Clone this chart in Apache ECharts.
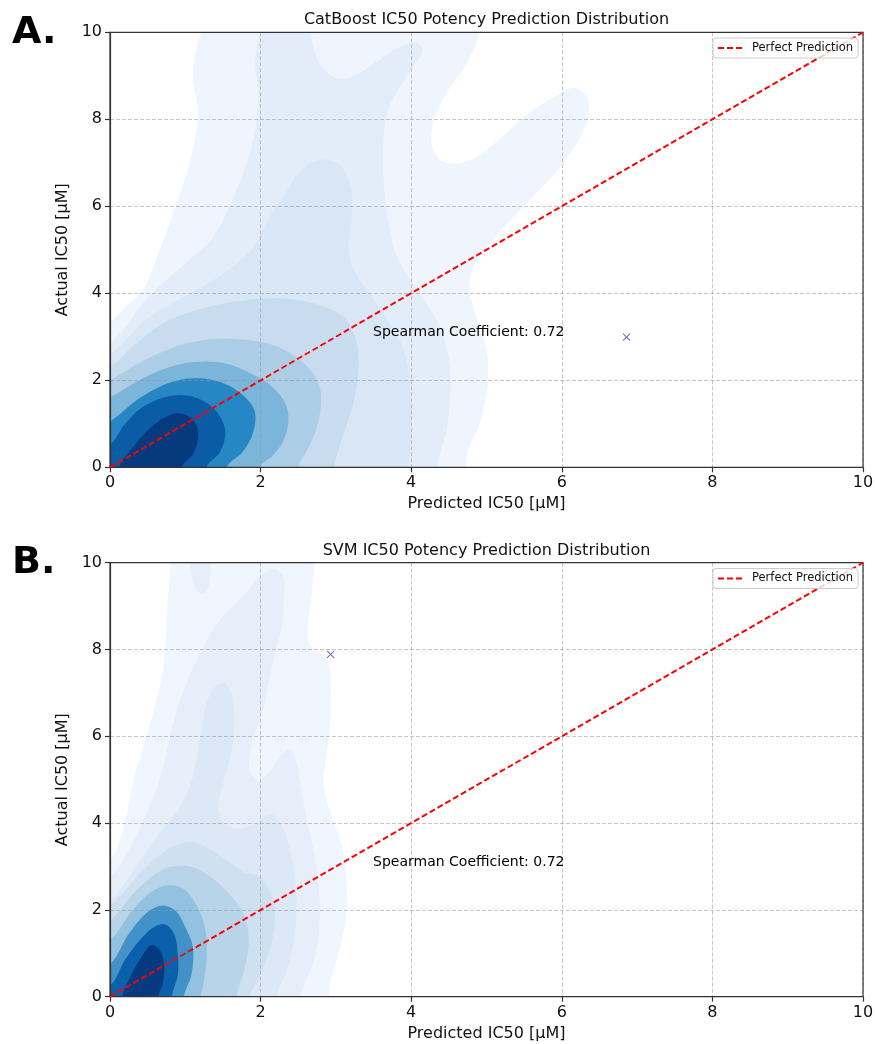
<!DOCTYPE html>
<html><head><meta charset="utf-8">
<script src="https://cdn.jsdelivr.net/npm/echarts@6/dist/echarts.min.js"></script>
<style>html,body{margin:0;padding:0;background:#fff}#chart{width:875px;height:1044px}</style>
</head><body><div id="chart"></div>
<script>
// ---------- data ----------
const axisMin = 0, axisMax = 10, axisStep = 2;
const titleA = 'CatBoost IC50 Potency Prediction Distribution';
const titleB = 'SVM IC50 Potency Prediction Distribution';
const xName = 'Predicted IC50 [µM]';
const yName = 'Actual IC50 [µM]';
const legendName = 'Perfect Prediction';
const perfectLine = [[0, 0], [10, 10]];
const spearmanText = 'Spearman Coefficient: 0.72';
const spearmanPos = [3.5, 3.0];
const catOutlier = [[6.86, 2.99]];
const svmOutlier = [[2.93, 7.89]];

// KDE contour bands (data coords), lowest density first – CatBoost
const catL1 = [[-0.5,-1],[-0.5,3.0],[0,3.35],[0.2,3.68],[0.44,4.1],[0.66,5.0],[0.885,6.07],[1.08,7.14],[1.17,8.14],[1.1,8.98],[1.15,9.67],[1.22,10.05],[1.3,10.6],[4.95,10.6],[4.91,10.0],[4.74,9.29],[4.47,8.6],[4.29,7.91],[4.28,7.37],[4.4,7.05],[4.6,6.98],[4.85,7.12],[5.18,7.55],[5.53,8.1],[5.89,8.5],[6.15,8.72],[6.32,8.55],[6.36,8.1],[6.25,7.6],[6.02,6.99],[5.62,6.22],[5.27,5.6],[4.95,4.95],[4.78,4.35],[4.84,3.6],[5.0,2.7],[5.02,2.0],[4.91,1.0],[4.74,0.32],[4.65,-1]];
const catL2 = [[-0.5,2.4],[0,2.85],[0.53,3.95],[1.02,4.72],[1.35,5.25],[1.68,6.37],[1.9,7.52],[1.97,8.52],[1.93,9.29],[1.97,9.82],[2.02,10.2],[2.05,10.6],[2.62,10.6],[2.66,10.0],[2.74,9.44],[2.88,9.08],[3.07,8.93],[3.3,9.05],[3.52,9.3],[3.85,9.66],[4.06,9.76],[4.15,9.6],[4.02,9.2],[3.82,8.67],[3.68,8.14],[3.63,7.37],[3.65,6.22],[3.72,5.45],[3.8,4.9],[4.07,4.08],[4.36,3.31],[4.5,2.5],[4.52,1.78],[4.47,0.86],[4.34,0],[4.3,-1],[-0.5,-1]];
const catL3 = [[-0.5,2.2],[0,2.6],[0.5,3.42],[1.02,3.95],[1.5,4.45],[1.9,5.05],[2.1,5.7],[2.3,6.22],[2.55,6.85],[2.8,7.08],[3.05,6.95],[3.19,6.5],[3.21,5.76],[3.17,5.0],[3.25,4.5],[3.45,4.0],[3.68,3.4],[3.88,2.8],[3.98,2.0],[4.0,0.7],[3.96,0],[3.95,-1],[-0.5,-1]];
const catL4 = [[-0.5,1.9],[0,2.3],[0.35,2.85],[0.75,3.35],[1.2,3.64],[1.7,3.82],[2.3,3.88],[2.8,3.72],[3.12,3.42],[3.27,2.9],[3.3,2.3],[3.22,1.4],[3.07,0.6],[2.98,0],[2.96,-1],[-0.5,-1]];
const catL5 = [[-0.5,1.55],[0,2.0],[0.5,2.5],[1.0,2.84],[1.4,2.95],[1.8,2.93],[2.15,2.82],[2.5,2.5],[2.72,2.1],[2.8,1.7],[2.76,1.0],[2.62,0.4],[2.5,0],[2.48,-1],[-0.5,-1]];
const catL6 = [[-0.5,1.1],[0,1.6],[0.5,2.1],[0.9,2.36],[1.25,2.43],[1.55,2.38],[1.82,2.2],[2.12,1.9],[2.32,1.5],[2.37,1.1],[2.3,0.6],[2.15,0.25],[1.98,0],[1.96,-1],[-0.5,-1]];
const catL7 = [[-0.5,0.6],[0,1.05],[0.4,1.6],[0.8,1.95],[1.15,2.05],[1.48,1.95],[1.75,1.68],[1.92,1.3],[1.9,0.8],[1.76,0.35],[1.55,0],[1.52,-1],[-0.5,-1]];
const catL8 = [[-0.5,0.05],[0,0.52],[0.2,1.0],[0.44,1.39],[0.8,1.64],[1.1,1.62],[1.38,1.35],[1.53,0.85],[1.46,0.35],[1.28,0],[1.25,-1],[-0.5,-1]];
const catL9 = [[0.1,-1],[0.12,0],[0.3,0.45],[0.5,0.85],[0.7,1.12],[0.88,1.24],[1.05,1.17],[1.15,0.95],[1.17,0.65],[1.1,0.3],[0.95,0],[0.92,-1]];

// KDE contour bands – SVM
const svmL1 = [[-0.5,-1],[-0.5,2.7],[0,3.15],[0.18,3.9],[0.31,4.99],[0.45,5.8],[0.58,6.6],[0.7,7.5],[0.74,8.3],[0.76,9.0],[0.8,9.8],[0.83,10.6],[2.74,10.6],[2.72,10.0],[2.68,9.29],[2.63,8.55],[2.66,8.1],[2.8,7.9],[2.9,7.7],[2.93,7.3],[2.92,6.22],[2.86,5.4],[2.83,4.95],[2.93,4.22],[3.08,3.46],[3.14,2.69],[3.14,1.92],[3.06,1.15],[2.93,0.39],[2.8,-1]];
const svmL2 = [[-0.5,-1],[-0.5,2.3],[0,2.75],[0.3,3.55],[0.5,4.3],[0.66,5.0],[0.885,6.6],[1.15,7.76],[1.46,8.68],[1.8,9.3],[2.0,9.7],[2.18,9.85],[2.3,9.7],[2.31,9.2],[2.28,8.52],[2.17,7.76],[2.03,6.6],[1.88,5.8],[1.85,5.25],[1.95,4.98],[2.1,5.15],[2.27,5.55],[2.39,5.7],[2.48,5.4],[2.52,4.99],[2.6,4.22],[2.72,3.2],[2.79,1.92],[2.7,0.77],[2.52,0],[2.5,-1]];
const svmL2Top = [[1.08,10.6],[1.08,9.8],[1.14,9.4],[1.22,9.28],[1.3,9.42],[1.34,9.85],[1.36,10.6]];
const svmL3 = [[-0.5,-1],[-0.5,1.8],[0,2.2],[0.31,2.92],[0.62,3.69],[0.9,4.3],[1.08,4.95],[1.2,6.0],[1.3,6.85],[1.42,7.18],[1.52,7.22],[1.62,6.95],[1.65,6.4],[1.62,5.7],[1.5,4.9],[1.44,4.35],[1.52,4.0],[1.7,3.87],[1.95,4.0],[2.13,4.22],[2.28,3.95],[2.4,3.3],[2.47,2.5],[2.46,1.5],[2.35,0.6],[2.21,0],[2.2,-1]];
const svmL4 = [[-0.5,-1],[-0.5,1.7],[0,2.1],[0.4,2.85],[0.75,3.38],[1.06,3.57],[1.3,3.42],[1.5,3.2],[1.77,2.88],[1.98,2.76],[2.13,2.4],[2.19,1.92],[2.14,1.2],[1.98,0.45],[1.86,0],[1.85,-1]];
const svmL5 = [[-0.5,-1],[-0.5,1.3],[0,1.75],[0.35,2.45],[0.7,2.93],[0.93,3.02],[1.15,2.95],[1.38,2.7],[1.62,2.3],[1.8,1.8],[1.84,1.2],[1.78,0.6],[1.68,0],[1.67,-1]];
const svmL6 = [[-0.5,-1],[-0.5,0.8],[0,1.3],[0.3,2.0],[0.58,2.45],[0.8,2.57],[1.0,2.45],[1.18,2.0],[1.27,1.5],[1.28,0.8],[1.24,0.3],[1.2,0],[1.19,-1]];
const svmL7 = [[-0.5,-1],[-0.5,0.3],[0,0.75],[0.25,1.45],[0.5,1.95],[0.7,2.1],[0.87,1.98],[1.0,1.6],[1.1,1.15],[1.08,0.5],[0.98,0],[0.97,-1]];
const svmL8 = [[-0.5,-1],[-0.5,-0.2],[0,0.25],[0.2,0.85],[0.42,1.35],[0.6,1.62],[0.74,1.66],[0.85,1.45],[0.9,1.0],[0.9,0.5],[0.82,0],[0.81,-1]];
const svmL9 = [[0.12,-1],[0.16,0],[0.27,0.46],[0.42,0.92],[0.55,1.19],[0.66,1.08],[0.72,0.69],[0.7,0.3],[0.64,0],[0.63,-1]];

const catLevels = [[catL1],[catL2],[catL3],[catL4],[catL5],[catL6],[catL7],[catL8],[catL9]];
const svmLevels = [[svmL1],[svmL2, svmL2Top],[svmL3],[svmL4],[svmL5],[svmL6],[svmL7],[svmL8],[svmL9]];
const catColors = ['#eff5fc','#e3edf9','#d9e6f5','#c9dcef','#abcde5','#7cb5da','#2787c4','#0b5ca6','#053a7e'];
const svmColors = ['#f0f6fd','#e6eff9','#dce8f5','#cfe0f1','#b8d4e9','#92c2df','#4292c9','#0b60ab','#043a80'];

// ---------- chart ----------
const FONT = 'DejaVu Sans';
const TXT = '#111111';
const chart = echarts.init(document.getElementById('chart'), null, {renderer: 'canvas'});

// closed centripetal Catmull-Rom curve through the given pixel points
function smoothClosed(pts, seg) {
  const n = pts.length, out = [];
  const knot = (a, b) => Math.max(Math.sqrt(Math.hypot(b[0] - a[0], b[1] - a[1])), 1e-4);
  const mix = (a, b, wa, wb) => [a[0] * wa + b[0] * wb, a[1] * wa + b[1] * wb];
  for (let i = 0; i < n; i++) {
    const p0 = pts[(i - 1 + n) % n], p1 = pts[i], p2 = pts[(i + 1) % n], p3 = pts[(i + 2) % n];
    const t0 = 0, t1 = t0 + knot(p0, p1), t2 = t1 + knot(p1, p2), t3 = t2 + knot(p2, p3);
    for (let s = 0; s < seg; s++) {
      const t = t1 + (t2 - t1) * s / seg;
      const A1 = mix(p0, p1, (t1 - t) / (t1 - t0), (t - t0) / (t1 - t0));
      const A2 = mix(p1, p2, (t2 - t) / (t2 - t1), (t - t1) / (t2 - t1));
      const A3 = mix(p2, p3, (t3 - t) / (t3 - t2), (t - t2) / (t3 - t2));
      const B1 = mix(A1, A2, (t2 - t) / (t2 - t0), (t - t0) / (t2 - t0));
      const B2 = mix(A2, A3, (t3 - t) / (t3 - t1), (t - t1) / (t3 - t1));
      out.push(mix(B1, B2, (t2 - t) / (t2 - t1), (t - t1) / (t2 - t1)));
    }
  }
  return out;
}

function gridDef(top, height) {
  return {left: 110, top: top, width: 753, height: height, show: true, z: 4,
    backgroundColor: 'rgba(0,0,0,0)', borderColor: '#333', borderWidth: 1.2,
    containLabel: false, outerBoundsMode: 'none'};
}
const splitStyle = {show: true, lineStyle: {color: 'rgba(150,150,150,0.55)', width: 1, type: [4, 2]}};
function xAx(gi) {
  return {type: 'value', gridIndex: gi, min: axisMin, max: axisMax, interval: axisStep, z: 3,
    name: xName, nameLocation: 'middle', nameGap: 29,
    nameTextStyle: {fontSize: 16, color: TXT, fontFamily: FONT},
    axisLine: {show: true, onZero: false, lineStyle: {color: '#333', width: 1.2}},
    axisTick: {show: true, inside: false, length: 5, lineStyle: {color: '#333', width: 1.2}},
    axisLabel: {fontSize: 16, color: TXT, margin: 8, fontFamily: FONT},
    splitLine: splitStyle};
}
function yAx(gi) {
  return {type: 'value', gridIndex: gi, min: axisMin, max: axisMax, interval: axisStep, z: 3,
    name: yName, nameLocation: 'middle', nameGap: 28, nameRotate: 90,
    nameTextStyle: {fontSize: 16, color: TXT, fontFamily: FONT},
    axisLine: {show: true, onZero: false, lineStyle: {color: '#333', width: 1.2}},
    axisTick: {show: true, inside: false, length: 5, lineStyle: {color: '#333', width: 1.2}},
    axisLabel: {fontSize: 16, color: TXT, margin: 8, fontFamily: FONT},
    splitLine: splitStyle};
}
function contourSeries(levels, colors, gi) {
  return {type: 'custom', xAxisIndex: gi, yAxisIndex: gi, coordinateSystem: 'cartesian2d',
    clip: true, silent: true, z: 1,
    data: levels.map((_, i) => [i]),
    renderItem: function (params, api) {
      const i = api.value(0);
      return {type: 'group', children: levels[i].map(poly => ({
        type: 'polygon',
        shape: {points: smoothClosed(poly.map(p => api.coord(p)), 12)},
        style: {fill: colors[i], stroke: null}
      }))};
    }};
}
function diagSeries(gi) {
  return {type: 'line', name: legendName, xAxisIndex: gi, yAxisIndex: gi, data: perfectLine,
    symbol: 'none', silent: true, z: 6, clip: true,
    lineStyle: {color: '#ff0000', width: 2, type: [6, 3]}};
}
function outlierSeries(data, gi) {
  return {type: 'scatter', xAxisIndex: gi, yAxisIndex: gi, data: data, silent: true, z: 7,
    symbol: 'path://M0,0L10,10M10,0L0,10', symbolSize: 7,
    itemStyle: {color: 'rgba(0,0,0,0)', borderColor: '#7373c8', borderWidth: 1.1, opacity: 1}};
}
function textSeries(gi) {
  return {type: 'scatter', xAxisIndex: gi, yAxisIndex: gi, data: [spearmanPos], silent: true, z: 7,
    symbolSize: 1, itemStyle: {color: 'rgba(0,0,0,0)', opacity: 1},
    label: {show: true, formatter: spearmanText, position: [0, 0], align: 'left', verticalAlign: 'middle',
      offset: [0, -4], fontSize: 14, color: '#000', opacity: 1, fontFamily: FONT}};
}
function legendDef(top) {
  return {data: [legendName], left: 713, top: top, orient: 'horizontal', padding: [4, 5, 4, 4],
    itemWidth: 25, itemHeight: 14, selectedMode: false, z: 10,
    itemStyle: {opacity: 0, borderWidth: 0},
    backgroundColor: 'rgba(255,255,255,0.8)', borderColor: '#cccccc', borderWidth: 1, borderRadius: 3,
    textStyle: {fontSize: 11.5, color: TXT, fontFamily: FONT, padding: [0, 0, 0, 4]}};
}

const option = {
  animation: false,
  backgroundColor: '#ffffff',
  textStyle: {fontFamily: FONT},
  title: [
    {text: titleA, left: 486.5, top: 12, textAlign: 'center', padding: 0,
     textStyle: {fontSize: 16, fontWeight: 'normal', color: TXT, fontFamily: FONT}},
    {text: titleB, left: 486.5, top: 542.5, textAlign: 'center', padding: 0,
     textStyle: {fontSize: 16, fontWeight: 'normal', color: TXT, fontFamily: FONT}},
    {text: 'A.', left: 12, top: 14, padding: 0,
     textStyle: {fontSize: 38, fontWeight: 'bold', color: '#000', fontFamily: FONT}},
    {text: 'B.', left: 12, top: 544, padding: 0,
     textStyle: {fontSize: 38, fontWeight: 'bold', color: '#000', fontFamily: FONT}}
  ],
  legend: [legendDef(38), legendDef(568.5)],
  grid: [gridDef(32.3, 435), gridDef(562.7, 434)],
  xAxis: [xAx(0), xAx(1)],
  yAxis: [yAx(0), yAx(1)],
  series: [
    contourSeries(catLevels, catColors, 0),
    contourSeries(svmLevels, svmColors, 1),
    diagSeries(0), diagSeries(1),
    outlierSeries(catOutlier, 0), outlierSeries(svmOutlier, 1),
    textSeries(0), textSeries(1)
  ]
};
chart.setOption(option);
</script></body></html>
